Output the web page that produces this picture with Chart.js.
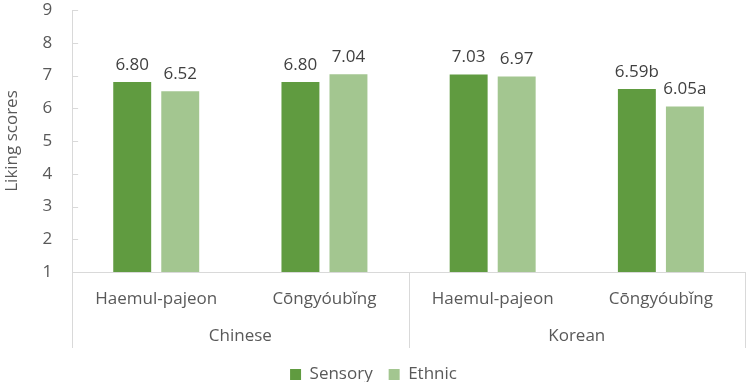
<!DOCTYPE html>
<html><head><meta charset="utf-8">
<script src="https://cdn.jsdelivr.net/npm/chart.js@4/dist/chart.umd.min.js"></script>
<style>html,body{margin:0;padding:0;background:#fff}#wrap{width:749px;height:382px}</style>
</head><body><div id="wrap"><canvas id="c" width="749" height="382"></canvas></div>
<script>
const groups = ["Chinese", "Korean"];
const foods = ["Haemul-pajeon", "Cōngyóubǐng", "Haemul-pajeon", "Cōngyóubǐng"];
const sensory = [6.80, 6.80, 7.03, 6.59];
const ethnic = [6.52, 7.04, 6.97, 6.05];
const sensoryLabels = ["6.80", "6.80", "7.03", "6.59b"];
const ethnicLabels = ["6.52", "7.04", "6.97", "6.05a"];
const yTicks = [1, 2, 3, 4, 5, 6, 7, 8, 9];

const FONT = "'Open Sans', 'Noto Sans', sans-serif";
const GRID = "#d9d9d9";
const FS = 17;

const extras = {
  id: "extras",
  afterDatasetsDraw(chart) {
    const ctx = chart.ctx;
    const x = chart.scales.x, y = chart.scales.y;
    const area = chart.chartArea;
    ctx.save();
    ctx.font = FS + "px " + FONT;
    ctx.fillStyle = "#404040";
    ctx.textAlign = "center";
    ctx.textBaseline = "middle";
    const lbls = [sensoryLabels, ethnicLabels];
    chart.data.datasets.forEach((ds, di) => {
      chart.getDatasetMeta(di).data.forEach((bar, i) => {
        ctx.fillText(lbls[di][i], bar.x, bar.y - 17);
      });
    });
    ctx.strokeStyle = GRID;
    ctx.lineWidth = 1;
    yTicks.forEach(v => {
      const py = Math.round(y.getPixelForValue(v)) + 0.5;
      ctx.beginPath(); ctx.moveTo(area.left, py); ctx.lineTo(area.left + 6, py); ctx.stroke();
    });
    const bottom = area.bottom + 76;
    const seps = [area.left, (x.getPixelForTick(1) + x.getPixelForTick(2)) / 2, area.right];
    seps.forEach(px => {
      const p = Math.round(px) + 0.5;
      ctx.beginPath(); ctx.moveTo(p, area.bottom); ctx.lineTo(p, bottom); ctx.stroke();
    });
    ctx.fillStyle = "#595959";
    groups.forEach((g, gi) => {
      const cx = (x.getPixelForTick(gi * 2) + x.getPixelForTick(gi * 2 + 1)) / 2;
      ctx.fillText(g, cx, area.bottom + 64);
    });
    ctx.restore();
  }
};

new Chart(document.getElementById("c"), {
  type: "bar",
  data: {
    labels: foods,
    datasets: [
      { label: "Sensory", data: sensory, backgroundColor: "#609b40", categoryPercentage: 0.571, barPercentage: 0.79 },
      { label: "Ethnic", data: ethnic, backgroundColor: "#a3c690", categoryPercentage: 0.571, barPercentage: 0.79 }
    ]
  },
  options: {
    responsive: false,
    animation: false,
    devicePixelRatio: 1,
    layout: { padding: { left: 2, right: 4, top: 10, bottom: -11 } },
    plugins: {
      legend: {
        position: "bottom",
        labels: { font: { family: FONT, size: FS }, color: "#595959", boxWidth: 11, boxHeight: 11, padding: 16 }
      },
      tooltip: { enabled: false }
    },
    scales: {
      x: {
        grid: { display: true, drawOnChartArea: false, drawTicks: false, color: GRID },
        border: { color: GRID },
        ticks: { font: { family: FONT, size: FS }, color: "#595959", padding: 17, maxRotation: 0, autoSkip: false },
        afterFit(s) { s.height = 78; }
      },
      y: {
        min: 1, max: 9,
        afterBuildTicks(s) { s.ticks = yTicks.map(v => ({ value: v })); },
        afterFit(s) { s.paddingTop = 0; s.paddingBottom = 0; },
        grid: { display: true, drawOnChartArea: false, drawTicks: false, color: GRID },
        border: { color: GRID },
        ticks: { font: { family: FONT, size: FS }, color: "#595959", padding: 20 },
        title: { display: true, text: "Liking scores", font: { family: FONT, size: FS }, color: "#595959", padding: { top: 0, bottom: 0 } }
      }
    }
  },
  plugins: [extras]
});
</script>
</body></html>
